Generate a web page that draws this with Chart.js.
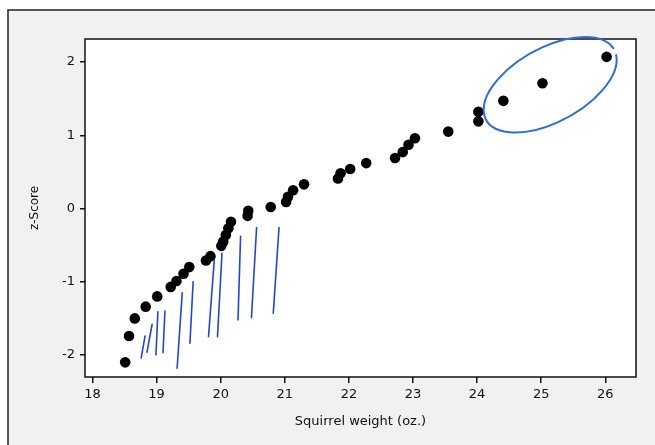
<!DOCTYPE html>
<html>
<head>
<meta charset="utf-8">
<script src="https://cdn.jsdelivr.net/npm/chart.js@4"></script>
<style>
  html, body { margin: 0; padding: 0; background: #fff; }
  #wrap { width: 655px; height: 445px; position: relative; }
</style>
</head>
<body>
<div id="wrap"><canvas id="chart" width="655" height="445"></canvas></div>
<script>
// squirrel weights (oz.) vs normal z-score
const weights = [18.51, 18.57, 18.66, 18.83, 19.01, 19.22, 19.31, 19.42, 19.51, 19.77,
  19.84, 20.01, 20.04, 20.08, 20.12, 20.16, 20.42, 20.43, 20.78, 21.02,
  21.05, 21.13, 21.30, 21.83, 21.87, 22.02, 22.27, 22.72, 22.84, 22.93,
  23.03, 23.55, 24.02, 24.02, 24.41, 25.02, 26.02];
const zScores = [-2.10, -1.74, -1.50, -1.34, -1.20, -1.07, -0.99, -0.89, -0.80, -0.71,
  -0.65, -0.51, -0.45, -0.36, -0.27, -0.18, -0.10, -0.03, 0.02, 0.09,
  0.16, 0.25, 0.33, 0.41, 0.48, 0.54, 0.62, 0.69, 0.77, 0.87,
  0.96, 1.05, 1.19, 1.32, 1.47, 1.71, 2.07];
const xTicks = [18, 19, 20, 21, 22, 23, 24, 25, 26];
const yTicks = [-2, -1, 0, 1, 2];

// hand-drawn pen marks on the printout (data units)
const penStrokes = [
  [18.82, -1.74, 18.76, -2.04], [18.93, -1.58, 18.85, -1.96],
  [19.02, -1.41, 18.99, -2.00], [19.13, -1.40, 19.10, -1.97],
  [19.40, -1.15, 19.32, -2.18], [19.57, -1.00, 19.52, -1.84],
  [19.90, -0.70, 19.81, -1.75], [20.02, -0.61, 19.95, -1.75],
  [20.31, -0.38, 20.27, -1.52], [20.56, -0.26, 20.48, -1.49],
  [20.91, -0.26, 20.82, -1.43]
];
const circled = { x: 25.14, y: 1.69 };

const points = weights.map((w, i) => ({ x: w, y: zScores[i] }));

const paper = {
  id: 'paper',
  beforeDraw(chart) {
    const c = chart.ctx, a = chart.chartArea;
    c.save();
    c.fillStyle = '#ffffff';
    c.fillRect(0, 0, chart.width, chart.height);
    c.fillStyle = '#f1f1f1';
    c.fillRect(8, 10, chart.width, chart.height);
    c.strokeStyle = '#222';
    c.lineWidth = 1.5;
    c.beginPath();
    c.moveTo(8, chart.height);
    c.lineTo(8, 10);
    c.lineTo(chart.width, 10);
    c.stroke();
    c.fillStyle = '#ffffff';
    c.fillRect(a.left, a.top, a.right - a.left, a.bottom - a.top);
    c.restore();
  },
  afterDatasetsDraw(chart) {
    const c = chart.ctx, a = chart.chartArea;
    const xs = chart.scales.x, ys = chart.scales.y;
    c.save();
    c.strokeStyle = '#111';
    c.lineWidth = 1.5;
    c.strokeRect(a.left, a.top, a.right - a.left, a.bottom - a.top);

    c.strokeStyle = '#2447c9';
    c.lineWidth = 1.6;
    c.lineCap = 'round';
    penStrokes.forEach(s => {
      c.beginPath();
      c.moveTo(xs.getPixelForValue(s[0]), ys.getPixelForValue(s[1]));
      c.lineTo(xs.getPixelForValue(s[2]), ys.getPixelForValue(s[3]));
      c.stroke();
    });

    c.strokeStyle = '#2e6cd6';
    c.lineWidth = 2;
    c.beginPath();
    c.ellipse(xs.getPixelForValue(circled.x), ys.getPixelForValue(circled.y), 73, 37, -0.5, 0.15, Math.PI * 2 - 0.05);
    c.stroke();
    c.restore();
  }
};

const ctx = document.getElementById('chart').getContext('2d');
const myChart = new Chart(ctx, {
  type: 'scatter',
  data: {
    datasets: [{
      data: points,
      backgroundColor: '#000',
      borderColor: '#000',
      borderWidth: 0,
      pointRadius: 5.3
    }]
  },
  options: {
    responsive: false,
    animation: false,
    layout: { padding: { left: 0, top: 39, right: 19, bottom: 0 } },
    plugins: { legend: { display: false }, tooltip: { enabled: false } },
    scales: {
      x: {
        type: 'linear',
        min: 17.883,
        max: 26.479,
        afterBuildTicks: s => { s.ticks = xTicks.map(v => ({ value: v })); },
        afterFit: s => { s.height = 68; },
        grid: { drawOnChartArea: false, tickLength: 6, color: '#111', lineWidth: 1.5 },
        border: { display: false },
        ticks: { color: '#111', padding: 4, font: { family: 'DejaVu Sans', size: 13 } },
        title: { display: true, text: 'Squirrel weight (oz.)', color: '#111', padding: 16,
          font: { family: 'DejaVu Sans', size: 13 } }
      },
      y: {
        type: 'linear',
        min: -2.30,
        max: 2.314,
        afterBuildTicks: s => { s.ticks = yTicks.map(v => ({ value: v })); },
        afterFit: s => { s.width = 85; },
        grid: { drawOnChartArea: false, tickLength: 5, color: '#111', lineWidth: 1.5 },
        border: { display: false },
        ticks: { color: '#111', padding: 5, font: { family: 'DejaVu Sans', size: 13 } },
        title: { display: true, text: 'z-Score', color: '#111', padding: 28,
          font: { family: 'DejaVu Sans', size: 12 } }
      }
    }
  },
  plugins: [paper]
});
</script>
</body>
</html>
